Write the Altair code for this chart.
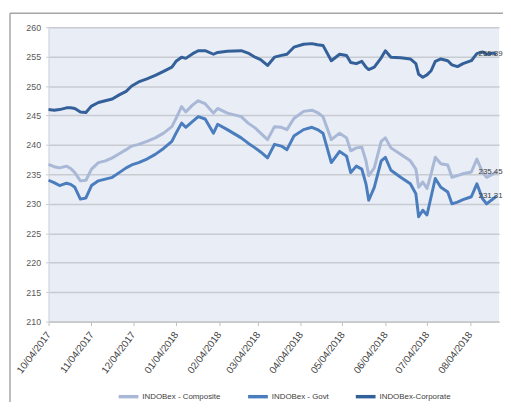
import altair as alt
import pandas as pd

dates = [
    "2017-10-04", "2017-10-08", "2017-10-12", "2017-10-17", "2017-10-20", "2017-10-23",
    "2017-10-27", "2017-10-31", "2017-11-04", "2017-11-09", "2017-11-14", "2017-11-19",
    "2017-11-24", "2017-11-29", "2017-12-03", "2017-12-08", "2017-12-14", "2017-12-20",
    "2017-12-26", "2018-01-01", "2018-01-04", "2018-01-08", "2018-01-11", "2018-01-16",
    "2018-01-20", "2018-01-25", "2018-01-31", "2018-02-03", "2018-02-10", "2018-02-20",
    "2018-02-25", "2018-03-02", "2018-03-06", "2018-03-11", "2018-03-16", "2018-03-21",
    "2018-03-25", "2018-03-30", "2018-04-06", "2018-04-12", "2018-04-16", "2018-04-20",
    "2018-04-26", "2018-05-02", "2018-05-07", "2018-05-10", "2018-05-14", "2018-05-18",
    "2018-05-21", "2018-05-23", "2018-05-27", "2018-06-01", "2018-06-04", "2018-06-08",
    "2018-06-15", "2018-06-22", "2018-06-26", "2018-06-28", "2018-07-01", "2018-07-04",
    "2018-07-07", "2018-07-10", "2018-07-14", "2018-07-19", "2018-07-22", "2018-07-26",
    "2018-07-30", "2018-08-05", "2018-08-09", "2018-08-13", "2018-08-16", "2018-08-21",
    "2018-08-23",
]

composite = [
    236.7, 236.3, 236.1, 236.4, 236.0, 235.3, 233.9, 234.0, 235.9, 237.0, 237.3, 237.8,
    238.5, 239.2, 239.8, 240.1, 240.6, 241.2, 242.0, 243.1, 244.5, 246.5, 245.6, 246.8,
    247.5, 247.0, 245.4, 246.2, 245.4, 244.8, 243.7, 242.9, 242.0, 240.9, 243.1, 243.0,
    242.6, 244.5, 245.7, 245.9, 245.5, 244.8, 240.9, 242.0, 241.2, 239.0, 239.5, 239.6,
    237.3, 234.8, 236.1, 240.6, 241.2, 239.5, 238.4, 237.3, 235.9, 232.8, 233.7, 232.6,
    235.1, 237.9, 236.8, 236.6, 234.5, 234.8, 235.1, 235.4, 237.6, 235.4, 234.5, 235.1,
    235.45,
]

govt = [
    234.0, 233.6, 233.1, 233.5, 233.3, 232.8, 230.8, 231.0, 233.1, 233.9, 234.2, 234.5,
    235.3, 236.1, 236.6, 237.0, 237.6, 238.4, 239.4, 240.6, 242.0, 243.7, 243.0, 244.0,
    244.8, 244.4, 242.0, 243.5, 242.6, 241.2, 240.3, 239.5, 238.8, 237.8, 240.1, 239.8,
    239.2, 241.5, 242.6, 243.0, 242.6, 242.0, 237.0, 238.9, 238.1, 235.3, 236.4, 235.9,
    233.4, 230.6, 232.8, 237.3, 237.9, 235.7, 234.5, 233.4, 231.7, 227.8, 228.9, 228.1,
    231.2, 234.3, 232.8, 232.0, 230.0, 230.3, 230.7, 231.2, 233.4, 230.9, 230.0, 230.9,
    231.31,
]

corporate = [
    246.0, 245.9, 246.0, 246.3, 246.3, 246.2, 245.6, 245.5, 246.6, 247.2, 247.5, 247.8,
    248.5, 249.1, 250.0, 250.7, 251.2, 251.8, 252.5, 253.2, 254.2, 254.9, 254.7, 255.5,
    256.0, 256.0, 255.4, 255.7, 255.9, 256.0, 255.6, 254.9, 254.5, 253.5, 254.9, 255.2,
    255.4, 256.6, 257.1, 257.2, 257.0, 256.9, 254.3, 255.4, 255.2, 254.0, 253.8, 254.2,
    253.2, 252.8, 253.2, 254.8, 256.0, 254.9, 254.8, 254.6, 253.8, 252.0, 251.5, 251.9,
    252.6, 254.2, 254.6, 254.3, 253.6, 253.3, 253.8, 254.3, 255.5, 255.8, 255.4, 255.6,
    255.39,
]

series_names = ["INDOBex - Composite", "INDOBex - Govt", "INDOBex-Corporate"]
series_colors = ["#A8B8D6", "#4A7DBE", "#34609A"]
tick_months = [(2017, 10), (2017, 11), (2017, 12), (2018, 1), (2018, 2), (2018, 3),
               (2018, 4), (2018, 5), (2018, 6), (2018, 7), (2018, 8)]
y_ticks = [210, 215, 220, 225, 230, 235, 240, 245, 250, 255, 260]

rows = []
for name, vals in zip(series_names, [composite, govt, corporate]):
    for d, v in zip(dates, vals):
        rows.append({"date": d, "value": v, "series": name})
df = pd.DataFrame(rows)

last_df = pd.DataFrame({
    "date": [dates[-1]] * 3,
    "value": [composite[-1], govt[-1], corporate[-1]],
    "series": series_names,
    "label": [f"{composite[-1]:.2f}", f"{govt[-1]:.2f}", f"{corporate[-1]:.2f}"],
})

x_scale = alt.Scale(
    type="utc",
    domain=[alt.DateTime(year=2017, month=10, date=4, utc=True),
            alt.DateTime(year=2018, month=8, date=25, utc=True)],
)
y_scale = alt.Scale(domain=[y_ticks[0], y_ticks[-1]], nice=False, zero=False)

x_axis = alt.Axis(
    values=[alt.DateTime(year=y, month=m, date=4, utc=True) for y, m in tick_months],
    tickCount=20,
    labelExpr="utcFormat(datum.value, '%m/%d/%Y')", title=None, grid=False,
    labelAngle=-53, labelAlign="right", labelBaseline="middle", labelPadding=7,
    labelFontSize=10, labelColor="#404040", tickSize=4, tickColor="#BFBFBF",
    domainColor="#BFBFBF", labelOverlap=False,
)
y_axis = alt.Axis(
    values=y_ticks, tickCount=20, title=None, grid=True,
    gridColor="#C8CBD1", gridWidth=1.5,
    labelFontSize=9, labelColor="#595959", labelPadding=5, tickSize=3,
    tickColor="#C8CBD1", domainColor="#D0D3D8", labelOverlap=False,
)

color = alt.Color(
    "series:N",
    scale=alt.Scale(domain=series_names, range=series_colors),
    legend=alt.Legend(
        title=None, orient="none", legendX=69, legendY=362, direction="horizontal",
        symbolType="stroke", symbolSize=400, symbolStrokeWidth=3.5, padding=0,
        labelFontSize=8, labelColor="#404040", columnPadding=20, labelOffset=2,
    ),
)

lines = alt.Chart(df).mark_line(strokeWidth=3, strokeJoin="round").encode(
    x=alt.X("date:T", scale=x_scale, axis=x_axis),
    y=alt.Y("value:Q", scale=y_scale, axis=y_axis),
    color=color,
    order=alt.Order("date:T"),
)

labels = alt.Chart(last_df).mark_text(
    align="left", baseline="middle", dx=-18, fontSize=8, color="#404040"
).encode(
    x=alt.X("date:T", scale=x_scale, axis=x_axis),
    y=alt.Y("value:Q", scale=y_scale, axis=y_axis),
    text="label:N",
)

frame_df = pd.DataFrame({"k": [0]})
frame_left = alt.Chart(frame_df).mark_rule(color="#A6A6A6", strokeWidth=1.5).encode(
    x=alt.value(-39), y=alt.value(-14), y2=alt.value(390)
)
frame_top = alt.Chart(frame_df).mark_rule(color="#A6A6A6", strokeWidth=1.5).encode(
    x=alt.value(-39), x2=alt.value(480), y=alt.value(-14)
)

chart = alt.layer(lines, labels, frame_left, frame_top).properties(
    width=456, height=298,
    autosize=alt.AutoSizeParams(type="none"),
    padding={"left": 41, "top": 17, "right": 4, "bottom": 79},
).configure(
    font="Liberation Sans",
).configure_view(
    fill="#E9EDF5", strokeWidth=0,
)

chart.save("out.html", embed_options={"renderer": "svg", "actions": False})
